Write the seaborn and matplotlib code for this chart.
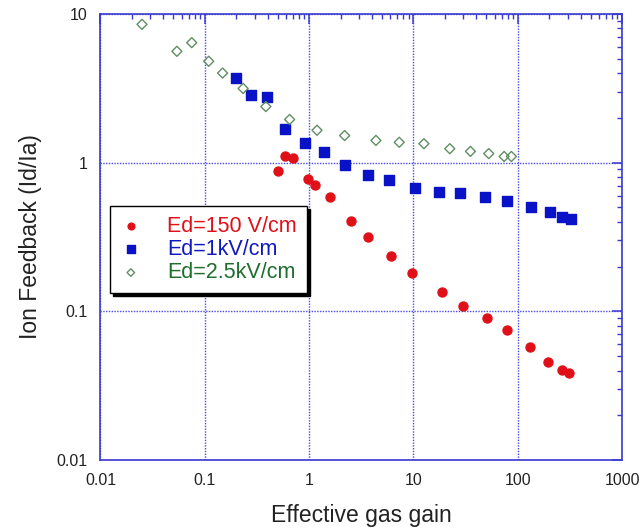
import matplotlib
matplotlib.use("Agg")
import matplotlib.pyplot as plt
import seaborn as sns
import pandas as pd

# Ed = 150 V/cm
gain_150 = [0.505, 0.589, 0.697, 0.97, 1.13, 1.60, 2.50, 3.64, 6.14, 9.68, 18.7,
            29.8, 50.8, 78.5, 130, 194, 267, 312]
ibf_150 = [0.88, 1.10, 1.08, 0.78, 0.708, 0.587, 0.404, 0.315, 0.237, 0.182, 0.134,
           0.108, 0.0898, 0.075, 0.0577, 0.0455, 0.0404, 0.0387]

# Ed = 1 kV/cm
gain_1k = [0.197, 0.276, 0.393, 0.589, 0.923, 1.39, 2.19, 3.67, 5.78, 10.3, 17.4,
           28.2, 48.6, 79, 133, 204, 266, 324]
ibf_1k = [3.70, 2.84, 2.74, 1.68, 1.35, 1.17, 0.96, 0.83, 0.765, 0.676, 0.638,
          0.625, 0.587, 0.555, 0.501, 0.463, 0.434, 0.418]

# Ed = 2.5 kV/cm
gain_2k5 = [0.025, 0.054, 0.075, 0.109, 0.148, 0.233, 0.385, 0.65, 1.19, 2.19,
            4.37, 7.31, 12.6, 22.3, 35.2, 52.7, 74, 86.9]
ibf_2k5 = [8.5, 5.6, 6.4, 4.8, 4.0, 3.15, 2.38, 1.95, 1.65, 1.52,
           1.41, 1.37, 1.34, 1.24, 1.19, 1.15, 1.10, 1.10]

series_labels = ["Ed=150 V/cm", "Ed=1kV/cm", "Ed=2.5kV/cm"]
x_ticks = [0.01, 0.1, 1, 10, 100, 1000]
x_tick_labels = ["0.01", "0.1", "1", "10", "100", "1000"]
y_ticks = [0.01, 0.1, 1, 10]
y_tick_labels = ["0.01", "0.1", "1", "10"]

df = pd.concat([
    pd.DataFrame({"gain": gain_150, "ibf": ibf_150, "field": series_labels[0]}),
    pd.DataFrame({"gain": gain_1k, "ibf": ibf_1k, "field": series_labels[1]}),
    pd.DataFrame({"gain": gain_2k5, "ibf": ibf_2k5, "field": series_labels[2]}),
])

sns.set_theme(style="white")
plt.rcParams['font.family'] = ['Liberation Sans', 'DejaVu Sans']

axis_blue = "#3a3ad0"
styles = {
    series_labels[0]: dict(marker="o", color="#e01018", edgecolor="#e01018", s=42, text="#e01018"),
    series_labels[1]: dict(marker="s", color="#0a12c8", edgecolor="#0a12c8", s=50, text="#1018c0"),
    series_labels[2]: dict(marker="D", color="none", edgecolor="#5f8f62", s=26, text="#1e6e2c"),
}

fig = plt.figure(figsize=(6.4, 5.32), dpi=100)
ax = fig.add_axes([0.157, 0.135, 0.815, 0.839])

for name in series_labels:
    st = styles[name]
    sns.scatterplot(data=df[df["field"] == name], x="gain", y="ibf", ax=ax,
                    marker=st["marker"], color=st["color"], edgecolor=st["edgecolor"],
                    linewidth=1.0, s=st["s"], label=name, zorder=3)

ax.set_xscale("log")
ax.set_yscale("log")
ax.set_xlim(0.01, 1000)
ax.set_ylim(0.01, 10)
ax.set_xticks(x_ticks, x_tick_labels)
ax.set_yticks(y_ticks, y_tick_labels)

ax.grid(True, which="major", color="#4a4ae6", linestyle=(0, (1, 1)), linewidth=1.0)
for sp in ax.spines.values():
    sp.set_color(axis_blue)
    sp.set_linewidth(1.2)
ax.tick_params(which="both", direction="in", top=True, right=True, color=axis_blue,
               labelcolor="#222222", labelsize=11.5)
ax.tick_params(which="major", length=7, width=1.1, pad=9)
ax.tick_params(which="minor", length=3.5, width=1.0)

ax.set_xlabel("Effective gas gain", fontsize=16.5, color="#222222", labelpad=12)
ax.set_ylabel("Ion Feedback (Id/Ia)", fontsize=16.5, color="#222222", labelpad=11)

leg = ax.legend(loc="upper left", bbox_to_anchor=(0.019, 0.569), borderaxespad=0,
                fontsize=15.5, frameon=True, fancybox=False, edgecolor="black",
                framealpha=1, shadow={"color": "black", "alpha": 1},
                handletextpad=1.2, borderpad=0.45, labelspacing=0.1,
                handlelength=1.0, markerscale=0.75)
leg.get_frame().set_linewidth(1.0)
for t in leg.get_texts():
    t.set_color(styles[t.get_text()]["text"])

fig.savefig("out.png", dpi=100)
